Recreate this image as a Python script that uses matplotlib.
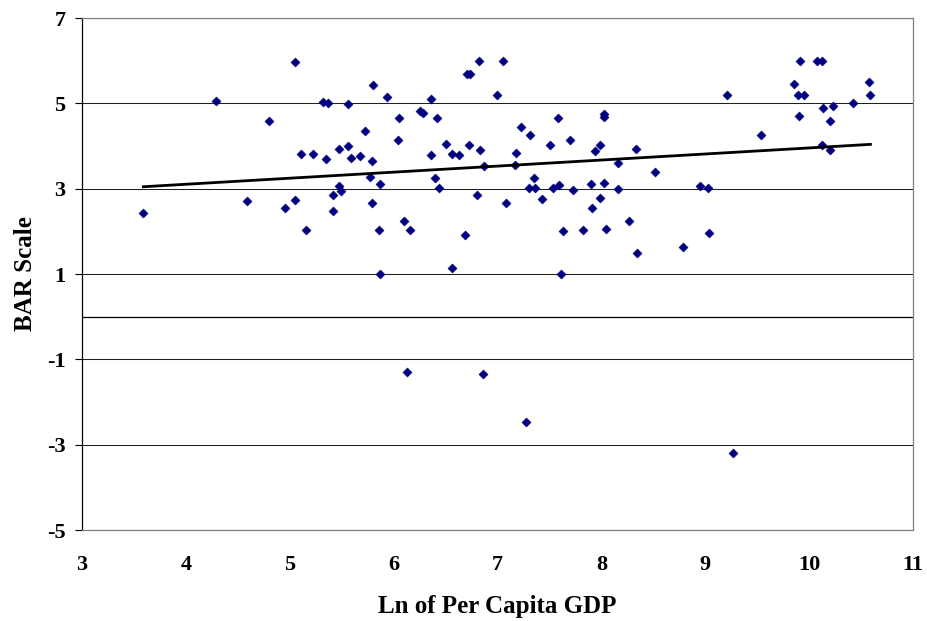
import numpy as np
import matplotlib
matplotlib.use("Agg")
import matplotlib.pyplot as plt

# Ln of per capita GDP (x) and BAR scale (y)
ln_gdp = [
    5.05, 4.29, 5.80, 5.32, 5.37, 5.56, 4.80, 5.72, 5.11, 5.22,
    5.35, 5.47, 5.56, 5.59, 5.68, 5.79, 5.77, 5.87, 5.47, 5.49,
    5.42, 4.59, 5.05, 4.95, 5.42, 5.79, 3.59, 5.16, 5.86, 5.87,
    5.94, 6.82, 7.05, 6.71, 6.74, 7.00, 6.36, 6.25, 6.28, 6.05,
    6.42, 7.58, 8.03, 8.03, 7.23, 7.31, 6.04, 7.70, 6.50, 6.73,
    7.51, 7.99, 7.94, 8.33, 6.83, 7.18, 6.36, 6.56, 6.63, 6.87,
    7.17, 8.16, 8.52, 6.40, 7.35, 6.44, 7.30, 7.36, 7.53, 7.59,
    7.73, 7.90, 8.03, 8.16, 6.80, 7.08, 7.43, 7.99, 7.91, 6.10,
    8.27, 6.16, 6.69, 7.63, 7.82, 8.04, 8.34, 6.56, 7.61, 9.91,
    10.08, 10.12, 9.85, 10.58, 9.21, 9.89, 9.95, 10.59, 10.42, 10.13,
    10.23, 9.90, 10.20, 9.54, 10.12, 10.20, 8.95, 9.03, 9.04, 8.79,
    6.13, 6.86, 7.27, 9.27,
]
bar_scale = [
    5.98, 5.05, 5.43, 5.04, 5.00, 4.98, 4.59, 4.34, 3.81, 3.82,
    3.69, 3.92, 4.01, 3.73, 3.77, 3.65, 3.28, 3.10, 3.07, 2.95,
    2.84, 2.72, 2.73, 2.54, 2.48, 2.67, 2.44, 2.02, 2.02, 1.00,
    5.16, 6.00, 6.00, 5.68, 5.68, 5.20, 5.10, 4.82, 4.77, 4.66,
    4.66, 4.66, 4.75, 4.69, 4.45, 4.25, 4.14, 4.14, 4.04, 4.02,
    4.02, 4.02, 3.89, 3.92, 3.91, 3.84, 3.80, 3.81, 3.79, 3.54,
    3.56, 3.59, 3.39, 3.25, 3.26, 3.02, 3.02, 3.02, 3.02, 3.09,
    2.97, 3.11, 3.13, 3.00, 2.86, 2.66, 2.75, 2.78, 2.55, 2.24,
    2.24, 2.02, 1.91, 2.00, 2.02, 2.05, 1.49, 1.14, 1.00, 6.00,
    6.00, 6.00, 5.45, 5.51, 5.20, 5.19, 5.19, 5.19, 5.01, 4.88,
    4.93, 4.71, 4.59, 4.25, 4.02, 3.91, 3.06, 3.01, 1.95, 1.64,
    -1.30, -1.34, -2.46, -3.20,
]
x_ticks = [3, 4, 5, 6, 7, 8, 9, 10, 11]
y_ticks = [-5, -3, -1, 1, 3, 5, 7]

plt.rcParams['font.family'] = ['Liberation Serif', 'DejaVu Serif']

fig = plt.figure(figsize=(9.28, 6.21), dpi=100)
ax = fig.add_axes([82 / 928, 1 - 530 / 621, 831 / 928, 512 / 621])

x = np.array(ln_gdp)
y = np.array(bar_scale)

ax.set_xlim(3, 11)
ax.set_ylim(-5, 7)
ax.set_xticks(x_ticks)
ax.set_yticks(y_ticks)
ax.set_xticklabels([str(t) for t in x_ticks], fontsize=16, fontweight='bold')
ax.set_yticklabels([str(t) for t in y_ticks], fontsize=16, fontweight='bold')

# gridlines and zero line
for t in y_ticks:
    ax.axhline(t, color='#202020', lw=0.75, zorder=1)
ax.axhline(0, color='black', lw=0.9, zorder=1)

ax.scatter(x, y, marker='D', s=22, color='#000080', edgecolors='#000080',
           linewidths=0.3, zorder=3)

# linear trendline
slope, intercept = np.polyfit(x, y, 1)
xs = np.array([x.min(), x.max()])
ax.plot(xs, slope * xs + intercept, color='black', lw=2.0, zorder=4)

for s in ['top', 'right', 'bottom']:
    ax.spines[s].set_color('#808080')
    ax.spines[s].set_linewidth(0.9)
ax.spines['left'].set_color('black')
ax.spines['left'].set_linewidth(0.9)

ax.tick_params(axis='x', length=0, pad=18)
ax.tick_params(axis='y', length=5, width=0.8, direction='out', pad=7)

ax.set_xlabel('Ln of Per Capita GDP', fontsize=18, fontweight='bold')
ax.set_ylabel('BAR Scale', fontsize=18, fontweight='bold')
ax.xaxis.set_label_coords(0.5, (530 - 595) / 512)
ax.yaxis.set_label_coords((37 - 82) / 831, 0.5)

fig.savefig('out.png', dpi=100)
